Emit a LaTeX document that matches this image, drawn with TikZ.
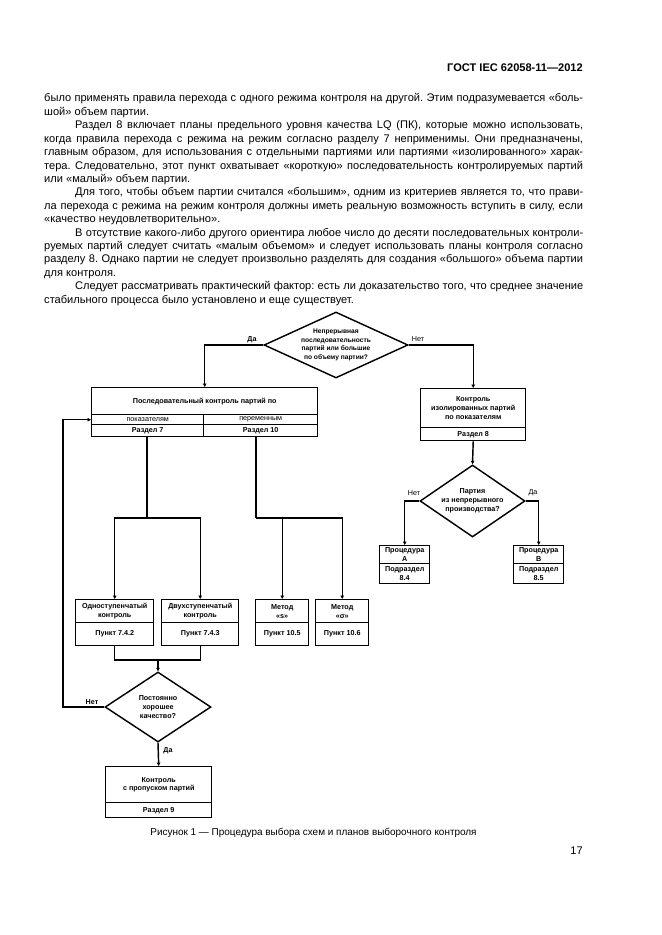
\documentclass[tikz,border=0pt]{standalone}
\usepackage{fontspec}
\setmainfont{Liberation Sans}
\usetikzlibrary{shapes.geometric,arrows.meta}
\newcommand\dgmfont{\fontsize{6.5}{8}\selectfont\bfseries}
\newcommand\dgmlight{\fontsize{6.5}{8}\selectfont}
\frenchspacing
\begin{document}
\begin{tikzpicture}[x=0.3177mm,y=-0.3177mm,
  body/.style={anchor=base west, inner sep=0pt, font=\fontsize{10}{12}\selectfont},
  box/.style n args={2}{draw, line width=1.3pt, anchor=north west, inner sep=0pt,
     minimum width=#1*0.3177mm, minimum height=#2*0.3177mm, align=center, font=\dgmfont},
  dia/.style={draw, diamond, line width=1.3pt, inner sep=0pt, align=center, font=\dgmfont},
  conn/.style={line width=1.3pt},
  arr/.style={line width=1.3pt, -{Triangle[length=1.1mm,width=1.1mm]}},
  lbl/.style={inner sep=0pt, font=\dgmfont},
  lbll/.style={inner sep=0pt, font=\dgmlight}]
\fill[white] (0,0) rectangle (661,935);
\useasboundingbox (0,0) rectangle (661,935);

% header
\node[anchor=base east, inner sep=0pt, font=\fontsize{10}{12}\selectfont\bfseries] (hdr) at (583,72) {ГОСТ IEC 62058-11—2012};

% body text
\def\W{171.2mm}
\def\Wi{161.4mm}
\node[body] (l1) at (44,102.0) {\makebox[\W][s]{было применять правила перехода с одного режима контроля на другой. Этим подразумевается «боль-}};
\node[body] (l2) at (44,115.4) {шой» объем партии.};
\node[body] (l3) at (75,128.8) {\makebox[\Wi][s]{Раздел 8 включает планы предельного уровня качества LQ (ПК), которые можно использовать,}};
\node[body] (l4) at (44,142.2) {\makebox[\W][s]{когда правила перехода с режима на режим согласно разделу 7 неприменимы. Они предназначены,}};
\node[body] (l5) at (44,155.6) {\makebox[\W][s]{главным образом, для использования с отдельными партиями или партиями «изолированного» харак-}};
\node[body] (l6) at (44,169.0) {\makebox[\W][s]{тера. Следовательно, этот пункт охватывает «короткую» последовательность контролируемых партий}};
\node[body] (l7) at (44,182.4) {или «малый» объем партии.};
\node[body] (l8) at (75,195.8) {\makebox[\Wi][s]{Для того, чтобы объем партии считался «большим», одним из критериев является то, что прави-}};
\node[body] (l9) at (44,209.2) {\makebox[\W][s]{ла перехода с режима на режим контроля должны иметь реальную возможность вступить в силу, если}};
\node[body] (l10) at (44,222.6) {«качество неудовлетворительно».};
\node[body] (l11) at (75,236.0) {\makebox[\Wi][s]{В отсутствие какого-либо другого ориентира любое число до десяти последовательных контроли-}};
\node[body] (l12) at (44,249.4) {\makebox[\W][s]{руемых партий следует считать «малым объемом» и следует использовать планы контроля согласно}};
\node[body] (l13) at (44,262.8) {\makebox[\W][s]{разделу 8. Однако партии не следует произвольно разделять для создания «большого» объема партии}};
\node[body] (l14) at (44,276.2) {для контроля.};
\node[body] (l15) at (75,289.6) {\makebox[\Wi][s]{Следует рассматривать практический фактор: есть ли доказательство того, что среднее значение}};
\node[body] (l16) at (44,303.0) {стабильного процесса было установлено и еще существует.};

% top decision
\node[dia, minimum width=144*0.3177mm, minimum height=66*0.3177mm, shape aspect=2.2,
      font=\fontsize{6}{7.6}\selectfont\bfseries] (d1) at (336,345)
  {Непрерывная\\последовательность\\партий или большие\\по объему партии?};
\node[lbl] (da1) at (252,340) {Да};
\node[lbll] (net1) at (418,339) {Нет};

% sequential control box
\node[box={226}{27}] (seq) at (91,387) {Последовательный контроль партий по};
\node[box={112}{10}, font=\dgmlight] (attr) at (91,414) {показателям};
\node[box={114}{10}, font=\dgmlight] (var) at (203,414) {переменным};
\node[box={112}{12}] (r7) at (91,424) {Раздел 7};
\node[box={114}{12}] (r10) at (203,424) {Раздел 10};

% isolated lots box
\node[box={105}{39}] (iso) at (420,388) {Контроль\\изолированных партий\\по показателям};
\node[box={105}{13}] (r8) at (420,427) {Раздел 8};

% second decision
\node[dia, minimum width=105*0.3177mm, minimum height=72*0.3177mm, shape aspect=1.46] (d2) at (472.5,501)
  {Партия\\из непрерывного\\производства?};
\node[lbll] (net2) at (414,493) {Нет};
\node[lbll] (da2) at (533,493) {Да};

\node[box={50}{18}] (pa) at (379,545) {Процедура\\А};
\node[box={50}{20}] (pa2) at (379,563) {Подраздел\\8.4};
\node[box={50}{18}] (pb) at (513,545) {Процедура\\В};
\node[box={50}{20}] (pb2) at (513,563) {Подраздел\\8.5};

% plan boxes
\node[box={78}{23}] (b1) at (75,599) {Одноступенчатый\\контроль};
\node[box={78}{23}] (b1p) at (75,622) {Пункт 7.4.2};
\node[box={77}{23}] (b2) at (161,599) {Двухступенчатый\\контроль};
\node[box={77}{23}] (b2p) at (161,622) {Пункт 7.4.3};
\node[box={53}{23}] (b3) at (255,599) {Метод\\«s»};
\node[box={53}{23}] (b3p) at (255,622) {Пункт 10.5};
\node[box={53}{23}] (b4) at (315,599) {Метод\\«σ»};
\node[box={53}{23}] (b4p) at (315,622) {Пункт 10.6};

% bottom decision
\node[dia, minimum width=106*0.3177mm, minimum height=70*0.3177mm, shape aspect=1.5] (d3) at (158,707)
  {Постоянно\\хорошее\\качество?};
\node[lbl] (net3) at (92,702) {Нет};
\node[lbl] (da3) at (168,751) {Да};

\node[box={106}{36}] (skip) at (105,766) {Контроль\\с пропуском партий};
\node[box={106}{15}] (r9) at (105,802) {Раздел 9};

% coordinates
\coordinate (s1) at (147,518);
\coordinate (s2) at (256,518);
\coordinate (j1) at (158,660);
\coordinate (fb) at (63,0);

% connectors
\draw[arr] (d1.west) -| (seq.north);
\draw[arr] (d1.east) -| (iso.north);
\draw[arr] (r8.south) -- (d2.north);
\draw[arr] (d2.west) -| (pa.north);
\draw[arr] (d2.east) -| (pb.north);
\draw[conn] (s1 |- r7.south) -- (s1);
\draw[arr] (s1) -| (b1.north);
\draw[arr] (s1) -| (b2.north);
\draw[conn] (s2 |- r10.south) -- (s2);
\draw[arr] (s2) -| (b4.north);
\draw[arr] (s2 -| b3.north) -- (b3.north);
\draw[conn] (b1p.south) |- (j1) -| (b2p.south);
\draw[arr] (j1) -- (d3.north);
\draw[arr] (d3.south) -- (skip.north);
\draw[arr] (d3.west) -- (d3.west -| fb) |- (attr.west);

% caption and page number
\node[anchor=base, inner sep=0pt, font=\fontsize{9}{11}\selectfont] (cap) at (313.5,835) {Рисунок 1 — Процедура выбора схем и планов выборочного контроля};
\node[anchor=base east, inner sep=0pt, font=\fontsize{10}{12}\selectfont] (pg) at (583,854) {17};
\end{tikzpicture}
\end{document}
